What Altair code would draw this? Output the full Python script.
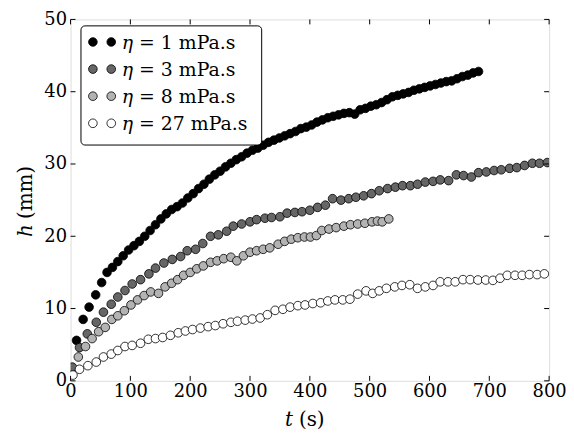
import altair as alt
import pandas as pd

# ---- data ----
t_1 = [10, 21, 31, 42, 52, 61, 70, 79, 88, 97, 106, 115, 124, 133, 142, 151, 160, 169, 178, 187,
       196, 205, 214, 223, 232, 241, 250, 259, 268, 277, 286, 295, 304, 313, 322, 331, 340, 349, 358, 367,
       376, 385, 394, 403, 412, 421, 430, 439, 448, 457, 466, 475, 484, 493, 502, 511, 520, 529, 538, 547,
       556, 565, 574, 583, 592, 601, 610, 619, 628, 637, 646, 655, 664, 673, 682]
h_1 = [5.6, 8.5, 10.2, 11.9, 13.6, 15.0, 15.7, 16.5, 17.3, 18.1, 18.7, 19.3, 20.0, 20.8, 21.6, 22.4, 23.1, 23.7, 24.1, 24.6,
       25.3, 25.9, 26.6, 27.2, 27.9, 28.5, 29.0, 29.6, 30.1, 30.6, 31.0, 31.5, 31.9, 32.2, 32.6, 33.0, 33.3, 33.6, 33.9, 34.2,
       34.5, 34.9, 35.1, 35.4, 35.8, 36.1, 36.4, 36.6, 36.8, 37.0, 37.1, 36.9, 37.5, 37.7, 38.0, 38.2, 38.5, 38.9, 39.3, 39.5,
       39.7, 39.9, 40.2, 40.4, 40.6, 40.8, 41.0, 41.2, 41.4, 41.5, 41.8, 42.1, 42.3, 42.6, 42.8]

t_3 = [3, 15, 28, 43, 55, 68, 79, 91, 103, 117, 131, 142, 156, 170, 184, 195, 209, 221, 234, 247,
       261, 272, 286, 300, 311, 325, 336, 350, 362, 375, 387, 400, 413, 426, 438, 452, 465, 477, 490, 503,
       516, 530, 543, 555, 568, 580, 593, 606, 618, 632, 645, 657, 670, 682, 695, 708, 720, 734, 746, 759,
       772, 784, 797]
h_3 = [1.9, 4.6, 6.5, 8.1, 9.5, 10.6, 11.6, 12.5, 13.4, 14.0, 14.8, 15.6, 16.3, 16.8, 17.2, 18.0, 18.2, 19.0, 20.0, 20.2,
       20.7, 21.4, 21.7, 22.0, 22.3, 22.5, 22.6, 22.7, 23.2, 23.3, 23.4, 23.6, 24.0, 24.3, 25.2, 25.0, 25.2, 25.4, 25.6, 25.9,
       26.3, 26.6, 26.8, 27.0, 27.0, 27.2, 27.5, 27.6, 27.8, 27.7, 28.5, 28.4, 28.2, 28.8, 28.9, 29.1, 29.2, 29.4, 29.5, 29.8,
       30.1, 30.1, 30.2]

t_8 = [13, 25, 36, 47, 58, 69, 79, 90, 101, 112, 123, 134, 147, 158, 169, 179, 189, 200, 211, 222,
       234, 245, 256, 268, 278, 289, 300, 311, 322, 333, 347, 358, 369, 380, 391, 401, 411, 420, 432, 444,
       457, 468, 480, 492, 504, 513, 521, 532]
h_8 = [3.3, 4.75, 5.85, 6.8, 7.4, 8.5, 9.0, 9.7, 10.5, 11.2, 11.8, 12.3, 12.1, 13.0, 13.5, 14.0, 14.6, 15.0, 15.5, 15.9,
       16.4, 16.6, 16.9, 17.1, 16.6, 17.3, 17.8, 18.0, 18.2, 18.4, 18.9, 19.3, 19.6, 19.8, 19.9, 19.9, 20.1, 20.8, 21.0, 21.2,
       21.4, 21.6, 21.7, 21.8, 22.0, 22.1, 22.0, 22.4]

t_27 = [4, 15, 29, 43, 55, 68, 79, 91, 103, 117, 130, 142, 154, 167, 180, 192, 204, 217, 230, 242,
        255, 268, 279, 292, 304, 317, 329, 342, 355, 367, 380, 392, 405, 418, 430, 442, 455, 467, 480, 494,
        505, 516, 528, 542, 554, 567, 580, 593, 606, 618, 631, 643, 656, 668, 681, 694, 706, 718, 730, 743,
        755, 767, 780, 792]
h_27 = [0.8, 1.6, 2.1, 2.6, 3.3, 3.7, 4.2, 4.75, 4.9, 5.2, 5.75, 5.85, 6.0, 6.3, 6.65, 6.9, 7.1, 7.3, 7.5, 7.65,
        7.9, 8.1, 8.25, 8.4, 8.55, 8.7, 9.15, 9.75, 9.9, 10.2, 10.4, 10.5, 10.7, 10.8, 11.05, 11.2, 11.2, 11.3, 12.0, 12.45,
        12.1, 12.45, 12.8, 13.0, 13.2, 13.3, 12.8, 13.0, 13.2, 13.7, 13.7, 13.7, 14.0, 14.0, 13.95, 13.95, 13.9, 14.2, 14.6, 14.6,
        14.6, 14.7, 14.7, 14.8]

viscosities = ["1", "3", "8", "27"]
fill_colors = ["#000000", "#666666", "#b3b3b3", "#ffffff"]
x_ticks = [0, 100, 200, 300, 400, 500, 600, 700, 800]
y_ticks = [0, 10, 20, 30, 40, 50]

# ---- build table ----
rows = []
for v, ts, hs in zip(viscosities, [t_1, t_3, t_8, t_27], [h_1, h_3, h_8, h_27]):
    for t, h in zip(ts, hs):
        rows.append({"series": v, "t": t, "h": h})
df = pd.DataFrame(rows)

W, H = 482, 364
FONT = "DejaVu Serif"
FS = 18
TFS = 20
MSIZE = 76

xscale = alt.Scale(domain=[0, 800], nice=False, zero=False)
yscale = alt.Scale(domain=[0, 50], nice=False, zero=False)

points = alt.Chart(df).mark_circle(size=MSIZE, stroke="black", strokeWidth=0.8, opacity=1, clip=True).encode(
    x=alt.X("t:Q", scale=xscale, axis=alt.Axis(values=x_ticks, ticks=False, tickSize=0, domain=False, grid=False,
                                               title=None, labelFont=FONT, labelFontSize=FS, labelColor="black",
                                               labelPadding=2, labelFlush=False, labelOverlap=False, format="d")),
    y=alt.Y("h:Q", scale=yscale, axis=alt.Axis(values=y_ticks, ticks=False, tickSize=0, domain=False, grid=False,
                                               title=None, labelFont=FONT, labelFontSize=FS, labelColor="black",
                                               labelPadding=4, labelFlush=False, labelOverlap=False, format="d")),
    fill=alt.Fill("series:N", scale=alt.Scale(domain=viscosities, range=fill_colors), legend=None),
)

# inward ticks on all four sides
xt = pd.DataFrame({"v": x_ticks})
yt = pd.DataFrame({"v": y_ticks})
TL = 5
tick_b = alt.Chart(xt).mark_rule(color="black", strokeWidth=1).encode(
    x=alt.X("v:Q", scale=xscale), y=alt.value(H), y2=alt.value(H - TL))
tick_t = alt.Chart(xt).mark_rule(color="black", strokeWidth=1).encode(
    x=alt.X("v:Q", scale=xscale), y=alt.value(0), y2=alt.value(TL))
tick_l = alt.Chart(yt).mark_rule(color="black", strokeWidth=1).encode(
    y=alt.Y("v:Q", scale=yscale), x=alt.value(0), x2=alt.value(TL))
tick_r = alt.Chart(yt).mark_rule(color="black", strokeWidth=1).encode(
    y=alt.Y("v:Q", scale=yscale), x=alt.value(W), x2=alt.value(W - TL))

one = pd.DataFrame({"k": [0]})

# legend (manual, matplotlib style with two markers per entry)
legend_layers = [
    alt.Chart(one).mark_rect(fill="white", stroke="black", strokeWidth=1, cornerRadius=4).encode(
        x=alt.value(10.5), x2=alt.value(192.5), y=alt.value(6.5), y2=alt.value(126.5))
]
row0, dy = 22.7, 27.3
for i, (v, c) in enumerate(zip(viscosities, fill_colors)):
    cy = row0 + dy * i
    for cx in (22.5, 41.0):
        legend_layers.append(
            alt.Chart(one).mark_circle(size=MSIZE, fill=c, stroke="black", strokeWidth=0.8, opacity=1).encode(
                x=alt.value(cx), y=alt.value(cy)))
    legend_layers.append(
        alt.Chart(one).mark_text(text="η", font=FONT, fontSize=FS + 1, fontStyle="italic", align="left",
                                 baseline="alphabetic", color="black").encode(x=alt.value(51.5), y=alt.value(cy + 7)))
    legend_layers.append(
        alt.Chart(one).mark_text(text="= " + v + " mPa.s", font=FONT, fontSize=FS + 1, align="left",
                                 baseline="alphabetic", color="black").encode(x=alt.value(69), y=alt.value(cy + 7)))

# axis titles with italic variables
titles = [
    alt.Chart(one).mark_text(text="t", font=FONT, fontSize=TFS, fontStyle="italic", align="left",
                             baseline="alphabetic", color="black").encode(x=alt.value(216), y=alt.value(409)),
    alt.Chart(one).mark_text(text="(s)", font=FONT, fontSize=TFS, align="left",
                             baseline="alphabetic", color="black").encode(x=alt.value(230), y=alt.value(409)),
    alt.Chart(one).mark_text(text="h", font=FONT, fontSize=TFS, fontStyle="italic", align="left", angle=270,
                             baseline="alphabetic", color="black").encode(x=alt.value(-39), y=alt.value(219)),
    alt.Chart(one).mark_text(text="(mm)", font=FONT, fontSize=TFS, align="left", angle=270,
                             baseline="alphabetic", color="black").encode(x=alt.value(-39), y=alt.value(201)),
]

chart = alt.layer(points, tick_b, tick_t, tick_l, tick_r, *legend_layers, *titles).properties(
    width=W, height=H,
    padding={"left": 63, "top": 10, "right": 17, "bottom": 49},
    autosize=alt.AutoSizeParams(type="none"),
).configure_view(stroke="black", strokeWidth=1).configure(background="white")

chart.save("out.html", embed_options={"renderer": "svg", "actions": False})
